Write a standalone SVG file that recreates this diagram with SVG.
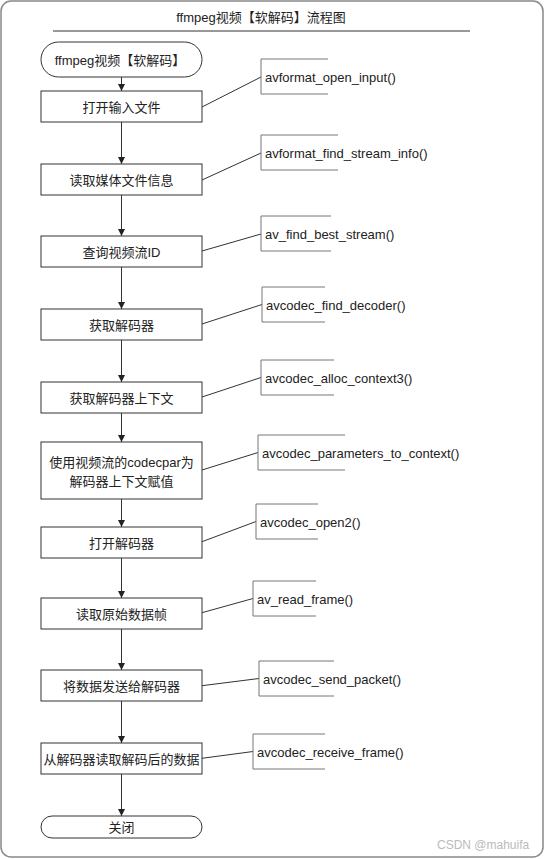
<svg xmlns="http://www.w3.org/2000/svg" width="545" height="859" viewBox="0 0 545 859">
<style>
text{font-family:"Liberation Sans","Noto Sans CJK SC",sans-serif;font-size:13px;fill:#222;dominant-baseline:central}
.c{text-anchor:middle}
.box{fill:#fff;stroke:#333;stroke-width:1}
.br{fill:none;stroke:#777;stroke-width:1}
.ln{fill:none;stroke:#333;stroke-width:1}
</style>
<defs>
<marker id="ah" markerWidth="8" markerHeight="8" refX="7" refY="3.5" orient="auto" markerUnits="userSpaceOnUse">
<path d="M0,0 L7,3.5 L0,7 z" fill="#222"/>
</marker>
</defs>
<rect x="1" y="1" width="542" height="856" rx="10" fill="#fff" stroke="#888" stroke-width="1.5"/>
<g id="title">
<text class="c" x="261" y="17">ffmpeg视频【软解码】流程图</text>
<line x1="53" y1="31" x2="470" y2="31" stroke="#333" stroke-width="1"/>
</g>
<g id="connectors">
<path class="ln" marker-end="url(#ah)" d="M121.5,77 V91"/>
<path class="ln" marker-end="url(#ah)" d="M121.5,122 V164"/>
<path class="ln" marker-end="url(#ah)" d="M121.5,195 V236"/>
<path class="ln" marker-end="url(#ah)" d="M121.5,267 V309"/>
<path class="ln" marker-end="url(#ah)" d="M121.5,340 V382"/>
<path class="ln" marker-end="url(#ah)" d="M121.5,413 V442"/>
<path class="ln" marker-end="url(#ah)" d="M121.5,499 V527"/>
<path class="ln" marker-end="url(#ah)" d="M121.5,558 V598"/>
<path class="ln" marker-end="url(#ah)" d="M121.5,629 V670"/>
<path class="ln" marker-end="url(#ah)" d="M121.5,701 V743"/>
<path class="ln" marker-end="url(#ah)" d="M121.5,774 V816"/>
<line class="ln" x1="202" y1="107" x2="261" y2="77"/>
<line class="ln" x1="202" y1="180" x2="261" y2="153"/>
<line class="ln" x1="202" y1="251" x2="261" y2="234"/>
<line class="ln" x1="202" y1="324" x2="262" y2="304.5"/>
<line class="ln" x1="202" y1="397" x2="261" y2="377.5"/>
<line class="ln" x1="202" y1="470" x2="258" y2="452.5"/>
<line class="ln" x1="202" y1="541.7" x2="256" y2="521.5"/>
<line class="ln" x1="202" y1="612.7" x2="253" y2="598.5"/>
<line class="ln" x1="202" y1="685.7" x2="259" y2="678.5"/>
<line class="ln" x1="202" y1="758.3" x2="253" y2="751.5"/>
</g>
<g id="start"><rect class="box" x="41" y="42" width="161" height="35" rx="17.5"/><text class="c" x="120" y="60">ffmpeg视频【软解码】</text></g>
<g id="n1"><rect class="box" x="41" y="91" width="161" height="31"/><text class="c" x="121.5" y="107">打开输入文件</text></g>
<g id="n2"><rect class="box" x="41" y="164" width="161" height="31"/><text class="c" x="121.5" y="180">读取媒体文件信息</text></g>
<g id="n3"><rect class="box" x="41" y="236" width="161" height="31"/><text class="c" x="121.5" y="252">查询视频流ID</text></g>
<g id="n4"><rect class="box" x="41" y="309" width="161" height="31"/><text class="c" x="121.5" y="325">获取解码器</text></g>
<g id="n5"><rect class="box" x="41" y="382" width="161" height="31"/><text class="c" x="121.5" y="398">获取解码器上下文</text></g>
<g id="n6"><rect class="box" x="41" y="442" width="161" height="57"/><text class="c" x="121.5" y="462">使用视频流的codecpar为</text><text class="c" x="121.5" y="481">解码器上下文赋值</text></g>
<g id="n7"><rect class="box" x="41" y="527" width="161" height="31"/><text class="c" x="121.5" y="543">打开解码器</text></g>
<g id="n8"><rect class="box" x="41" y="598" width="161" height="31"/><text class="c" x="121.5" y="614">读取原始数据帧</text></g>
<g id="n9"><rect class="box" x="41" y="670" width="161" height="31"/><text class="c" x="121.5" y="686">将数据发送给解码器</text></g>
<g id="n10"><rect class="box" x="41" y="743" width="161" height="31"/><text class="c" x="121.5" y="759">从解码器读取解码后的数据</text></g>
<g id="end"><rect class="box" x="41" y="816" width="161" height="22" rx="11"/><text class="c" x="121.5" y="827.5">关闭</text></g>
<g id="a1"><path class="br" d="M328,59 H261 V94 H328"/><text x="265" y="77.5">avformat_open_input()</text></g>
<g id="a2"><path class="br" d="M338,135 H261 V170 H338"/><text x="265" y="153.5">avformat_find_stream_info()</text></g>
<g id="a3"><path class="br" d="M331,216 H261 V251 H331"/><text x="265" y="234.5">av_find_best_stream()</text></g>
<g id="a4"><path class="br" d="M325,287 H262 V322 H325"/><text x="266" y="305">avcodec_find_decoder()</text></g>
<g id="a5"><path class="br" d="M334,360 H261 V395 H334"/><text x="265" y="378">avcodec_alloc_context3()</text></g>
<g id="a6"><path class="br" d="M345,435 H258 V470 H345"/><text x="262" y="453">avcodec_parameters_to_context()</text></g>
<g id="a7"><path class="br" d="M318,504 H256 V539 H318"/><text x="260" y="522">avcodec_open2()</text></g>
<g id="a8"><path class="br" d="M316,581 H253 V616 H316"/><text x="257" y="599">av_read_frame()</text></g>
<g id="a9"><path class="br" d="M334,661 H259 V696 H334"/><text x="263" y="679">avcodec_send_packet()</text></g>
<g id="a10"><path class="br" d="M325,734 H253 V769 H325"/><text x="257" y="752">avcodec_receive_frame()</text></g>
<text x="437" y="845" style="fill:#bbb;font-size:12px">CSDN @mahuifa</text>
</svg>
